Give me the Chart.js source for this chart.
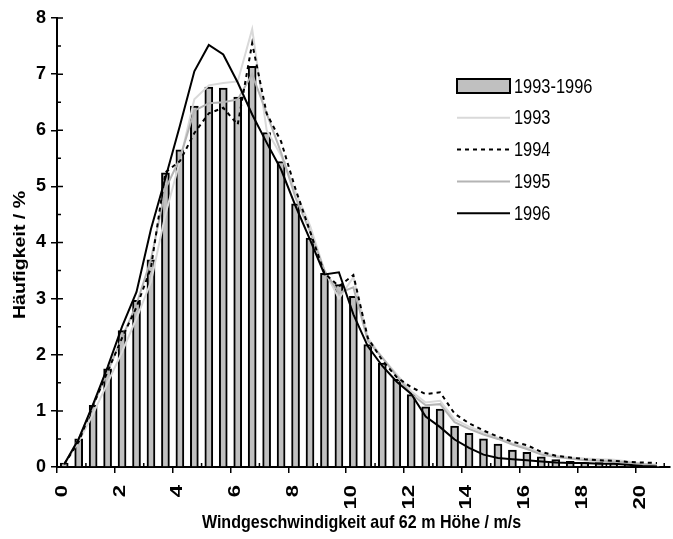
<!DOCTYPE html>
<html>
<head>
<meta charset="utf-8">
<script src="https://cdn.jsdelivr.net/npm/chart.js@4.4.1/dist/chart.umd.min.js"></script>
<style>
html, body { margin: 0; padding: 0; background: #fff; }
#wrap { width: 673px; height: 539px; position: relative; }
</style>
</head>
<body>
<div id="wrap"><canvas id="canvas_hist"></canvas></div>
<script>
// bin centres in m/s (0.5 m/s classes)
var speed = [0.25, 0.75, 1.25, 1.75, 2.25, 2.75, 3.25, 3.75, 4.25, 4.75,
             5.25, 5.75, 6.25, 6.75, 7.25, 7.75, 8.25, 8.75, 9.25, 9.75,
             10.25, 10.75, 11.25, 11.75, 12.25, 12.75, 13.25, 13.75, 14.25, 14.75,
             15.25, 15.75, 16.25, 16.75, 17.25, 17.75, 18.25, 18.75, 19.25, 19.75,
             20.25, 20.75];

// Häufigkeit in %
var all_years = [0.07, 0.5, 1.1, 1.75, 2.43, 2.97, 3.69, 5.24, 5.65, 6.43,
                 6.77, 6.75, 6.59, 7.14, 5.96, 5.44, 4.69, 4.08, 3.45, 3.25,
                 3.04, 2.18, 1.85, 1.56, 1.29, 1.07, 1.03, 0.73, 0.60, 0.50,
                 0.41, 0.30, 0.26, 0.18, 0.13, 0.10, 0.08, 0.08, 0.07, 0.05,
                 0.02, 0.01];
var y1993 = [0.05, 0.45, 0.95, 1.5, 2.05, 2.65, 3.3, 4.5, 5.45, 6.55,
             6.8, 6.84, 6.87, 7.8, 6.0, 5.55, 4.9, 4.3, 3.5, 3.0,
             3.38, 2.3, 1.95, 1.65, 1.35, 1.15, 1.18, 0.85, 0.72, 0.62,
             0.52, 0.42, 0.35, 0.25, 0.2, 0.17, 0.15, 0.14, 0.13, 0.1,
             0.06, 0.04];
var y1994 = [0.05, 0.45, 1.1, 1.7, 2.3, 2.85, 3.55, 5.25, 5.45, 5.95,
             6.3, 6.4, 6.1, 7.55, 6.3, 5.8, 4.95, 4.2, 3.45, 3.22,
             3.42, 2.3, 1.9, 1.6, 1.42, 1.3, 1.33, 0.95, 0.78, 0.65,
             0.54, 0.45, 0.39, 0.27, 0.2, 0.17, 0.14, 0.12, 0.11, 0.09,
             0.08, 0.07];
var y1995 = [0.05, 0.5, 1.1, 1.7, 2.3, 2.9, 3.7, 4.95, 5.5, 6.35,
             6.48, 6.5, 6.55, 7.0, 6.3, 5.6, 4.8, 4.2, 3.5, 3.1,
             3.2, 2.25, 1.95, 1.62, 1.3, 1.1, 1.12, 0.8, 0.68, 0.58,
             0.5, 0.4, 0.32, 0.22, 0.18, 0.15, 0.12, 0.11, 0.1, 0.08,
             0.05, 0.03];
var y1996 = [0.05, 0.5, 1.12, 1.78, 2.5, 3.12, 4.24, 5.15, 6.08, 7.05,
             7.52, 7.35, 6.85, 6.28, 5.78, 5.3, 4.65, 4.05, 3.43, 3.47,
             2.72, 2.15, 1.8, 1.52, 1.3, 0.9, 0.71, 0.49, 0.34, 0.22,
             0.16, 0.14, 0.12, 0.1, 0.08, 0.07, 0.07, 0.06, 0.06, 0.04,
             0.02, 0.01];

var xTicks = [0, 2, 4, 6, 8, 10, 12, 14, 16, 18, 20];
var yTicks = [0, 1, 2, 3, 4, 5, 6, 7, 8];
var legendLabels = ['1993-1996', '1993', '1994', '1995', '1996'];
var xTitle = 'Windgeschwindigkeit auf 62 m Höhe / m/s';
var yTitle = 'Häufigkeit / %';

var FONT = '"Liberation Sans", Arial, sans-serif';

function pts(vals) {
    return vals.map(function (v, i) { return { x: speed[i], y: v }; });
}

// little inside ticks like the original plot
var minorTicks = {
    id: 'minorTicks',
    afterDraw: function (chart) {
        var c = chart.ctx, xs = chart.scales.x, ys = chart.scales.y, a = chart.chartArea;
        c.save();
        c.strokeStyle = '#000';
        c.lineWidth = 1.5;
        c.beginPath();
        for (var v = 1; v < xs.max; v += 2) {
            var px = xs.getPixelForValue(v);
            c.moveTo(px, a.bottom); c.lineTo(px, a.bottom - 4);
        }
        for (var w = 0.5; w < ys.max; w += 1) {
            var py = ys.getPixelForValue(w);
            c.moveTo(a.left, py); c.lineTo(a.left + 4, py);
        }
        yTicks.forEach(function (t) {
            var pk = ys.getPixelForValue(t);
            c.moveTo(a.left, pk); c.lineTo(a.left + 6, pk);
        });
        c.stroke();
        c.restore();
    }
};

// rotated x labels and axis titles; the original figure was stretched
// vertically, so the text is squeezed/stretched the same way
var axisText = {
    id: 'axisText',
    afterDraw: function (chart) {
        var c = chart.ctx, a = chart.chartArea, xs = chart.scales.x;
        c.save();
        c.fillStyle = '#000';
        c.font = 'bold 17px ' + FONT;
        c.textAlign = 'right';
        c.textBaseline = 'middle';
        xTicks.forEach(function (t) {
            c.save();
            c.translate(xs.getPixelForValue(t) + 5, a.bottom + 18);
            c.rotate(-Math.PI / 2);
            c.scale(1.3, 1);
            c.fillText(String(t), 0, 0);
            c.restore();
        });
        c.restore();

        c.save();
        c.fillStyle = '#000';
        c.textAlign = 'center';
        c.textBaseline = 'middle';
        c.font = 'bold 19px ' + FONT;
        c.translate((a.left + a.right) / 2 - 2, 523);
        c.scale(0.845, 1);
        c.fillText(xTitle, 0, 0);
        c.restore();

        c.save();
        c.fillStyle = '#000';
        c.textAlign = 'center';
        c.textBaseline = 'middle';
        c.font = 'bold 17px ' + FONT;
        c.translate(20, 255);
        c.rotate(-Math.PI / 2);
        c.scale(1.15, 1);
        c.fillText(yTitle, 0, 0);
        c.restore();
    }
};

// legend box at the right, drawn from the datasets
var boxLegend = {
    id: 'boxLegend',
    afterDraw: function (chart) {
        var c = chart.ctx;
        var x0 = 457, x1 = 510, y0 = 86, step = 31.8;
        c.save();
        legendLabels.forEach(function (lab, i) {
            var ds = chart.data.datasets.find(function (d) { return d.label === lab; });
            var y = y0 + i * step;
            if (ds.type === 'bar') {
                c.fillStyle = ds.backgroundColor;
                c.fillRect(x0, y - 7, x1 - x0, 14);
                c.strokeStyle = ds.borderColor;
                c.lineWidth = 2;
                c.strokeRect(x0, y - 7, x1 - x0, 14);
            } else {
                c.strokeStyle = ds.borderColor;
                c.lineWidth = ds.borderWidth;
                c.setLineDash(ds.borderDash || []);
                c.beginPath();
                c.moveTo(x0, y); c.lineTo(x1, y);
                c.stroke();
                c.setLineDash([]);
            }
            c.save();
            c.fillStyle = '#000';
            c.font = '20px ' + FONT;
            c.textBaseline = 'middle';
            c.textAlign = 'left';
            c.translate(x1 + 4, y + 1);
            c.scale(0.82, 1);
            c.fillText(lab, 0, 0);
            c.restore();
        });
        c.restore();
    }
};

var ctx = document.getElementById('canvas_hist').getContext('2d');
var myChart = new Chart(ctx, {
    type: 'bar',
    data: {
        datasets: [
            { type: 'line', label: '1996', data: pts(y1996), borderColor: '#000000', borderWidth: 2,
              pointRadius: 0, tension: 0, order: 1 },
            { type: 'line', label: '1994', data: pts(y1994), borderColor: '#000000', borderWidth: 2,
              borderDash: [4, 4], pointRadius: 0, tension: 0, order: 2 },
            { type: 'line', label: '1995', data: pts(y1995), borderColor: '#b4b4b4', borderWidth: 2,
              pointRadius: 0, tension: 0, order: 3 },
            { type: 'line', label: '1993', data: pts(y1993), borderColor: '#d9d9d9', borderWidth: 2,
              pointRadius: 0, tension: 0, order: 4 },
            { type: 'bar', label: '1993-1996', data: pts(all_years), backgroundColor: '#c0c0c0',
              borderColor: '#000000', borderWidth: 2, barThickness: 8, order: 5 }
        ]
    },
    plugins: [minorTicks, axisText, boxLegend],
    options: {
        responsive: true,
        maintainAspectRatio: false,
        animation: false,
        layout: { padding: { top: 18, right: 3, left: 0, bottom: 0 } },
        plugins: {
            legend: { display: false },
            tooltip: { enabled: false }
        },
        scales: {
            x: {
                type: 'linear',
                offset: false,
                min: 0,
                max: 21.2,
                afterBuildTicks: function (s) { s.ticks = xTicks.map(function (v) { return { value: v }; }); },
                afterFit: function (s) { s.height = 72; },
                ticks: { display: false },
                grid: { drawOnChartArea: false, color: '#000', lineWidth: 1.5, tickLength: 6, offset: false },
                border: { color: '#000', width: 2 }
            },
            y: {
                min: 0,
                max: 8,
                afterBuildTicks: function (s) { s.ticks = yTicks.map(function (v) { return { value: v }; }); },
                afterFit: function (s) { s.width = 57; },
                ticks: {
                    color: '#000',
                    font: { family: FONT, size: 18, weight: 'bold' },
                    padding: 5
                },
                grid: { drawOnChartArea: false, color: '#000', lineWidth: 1.5, tickLength: 6 },
                border: { color: '#000', width: 2 }
            }
        }
    }
});
</script>
</body>
</html>
